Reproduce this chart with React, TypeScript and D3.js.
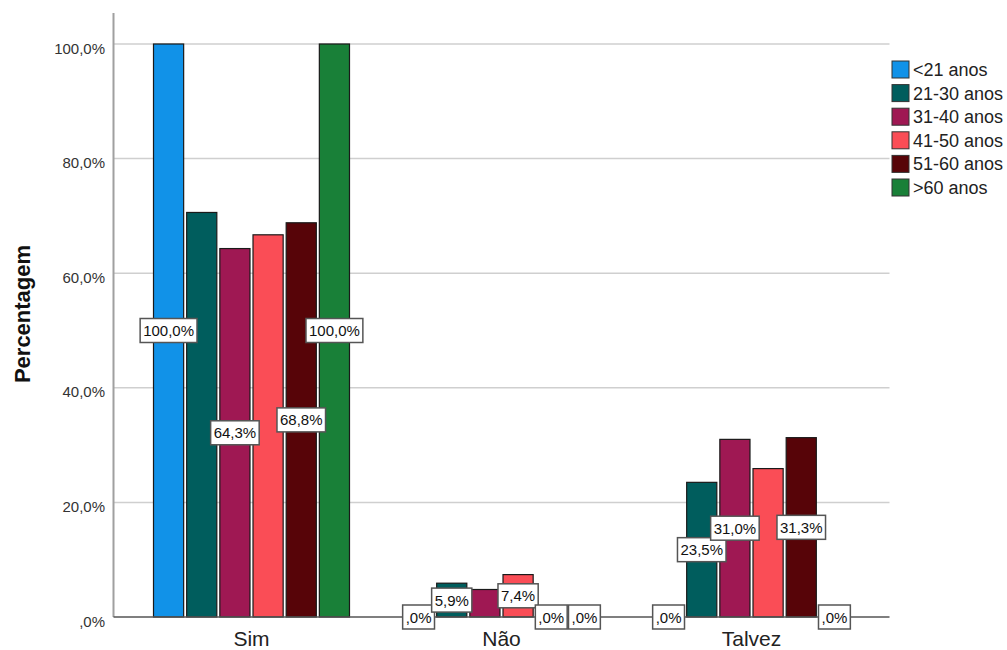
import React, { useEffect, useRef } from "react";
import * as d3 from "d3";

const categories = ["Sim", "Não", "Talvez"];
const seriesNames = ["<21 anos", "21-30 anos", "31-40 anos", "41-50 anos", "51-60 anos", ">60 anos"];
const seriesColors = ["#1192e8", "#005d5d", "#9f1853", "#fa4d56", "#570408", "#198038"];
const simValues = [100, 70.6, 64.3, 66.7, 68.8, 100];
const naoValues = [0, 5.9, 4.8, 7.4, 0, 0];
const talvezValues = [0, 23.5, 31.0, 25.9, 31.3, 0];
const simShown = [true, false, true, false, true, true];
const naoShown = [true, true, false, true, true, true];
const talvezShown = [true, true, true, false, true, true];
const yTicks = [0, 20, 40, 60, 80, 100];
const yTitle = "Percentagem";

const FONT = "'Liberation Sans', Arial, Helvetica, sans-serif";

function fmt(v: number): string {
  let s = v.toFixed(1).replace(".", ",");
  if (s.startsWith("0,")) s = s.slice(1);
  return s + "%";
}

export default function App() {
  const ref = useRef<SVGSVGElement | null>(null);

  useEffect(() => {
    const svg = d3.select(ref.current);
    svg.selectAll("*").remove();

    const W = 1007, H = 650;
    const left = 113.5, right = 889.5, top = 13, bottom = 617;

    const valuesByCat = [simValues, naoValues, talvezValues];
    const shownByCat = [simShown, naoShown, talvezShown];

    const x0 = d3.scalePoint<string>().domain(categories).range([left, right]).padding(0.552);
    const x1 = d3.scaleBand<string>().domain(seriesNames).range([-98, 98]).paddingInner(0.091).paddingOuter(0);
    const y = d3.scaleLinear().domain([0, 100]).range([bottom, 44]);

    svg.append("rect").attr("width", W).attr("height", H).attr("fill", "#fff");

    // gridlines
    svg.append("g").selectAll("line").data(yTicks.filter(t => t > 0)).join("line")
      .attr("x1", left).attr("x2", right)
      .attr("y1", d => y(d)).attr("y2", d => y(d))
      .attr("stroke", "#cfcfcf").attr("stroke-width", 1.5);

    // y axis line
    svg.append("line").attr("x1", left).attr("x2", left).attr("y1", top).attr("y2", bottom)
      .attr("stroke", "#a0a0a0").attr("stroke-width", 2);

    // tick labels
    svg.append("g").selectAll("text").data(yTicks).join("text")
      .attr("x", 105).attr("y", d => y(d) + 9.5)
      .attr("text-anchor", "end")
      .attr("font-family", FONT).attr("font-size", 15).attr("fill", "#333")
      .text(d => fmt(d));

    // y title
    svg.append("text")
      .attr("transform", `translate(29.5, 314) rotate(-90)`)
      .attr("text-anchor", "middle")
      .attr("font-family", FONT).attr("font-size", 22).attr("font-weight", "bold").attr("fill", "#111")
      .text(yTitle);

    // bars
    const barsG = svg.append("g");
    categories.forEach((c, ci) => {
      const cx = x0(c)!;
      seriesNames.forEach((s, si) => {
        const v = valuesByCat[ci][si];
        if (v <= 0) return;
        barsG.append("rect")
          .attr("x", cx + x1(s)!)
          .attr("y", y(v))
          .attr("width", x1.bandwidth())
          .attr("height", y(0) - y(v))
          .attr("fill", seriesColors[si])
          .attr("stroke", "#1a1a1a").attr("stroke-width", 1.2);
      });
    });

    // x axis line
    svg.append("line").attr("x1", left).attr("x2", right).attr("y1", bottom).attr("y2", bottom)
      .attr("stroke", "#555").attr("stroke-width", 1.5);

    // category labels
    svg.append("g").selectAll("text").data(categories).join("text")
      .attr("x", d => x0(d)!).attr("y", 645.5)
      .attr("text-anchor", "middle")
      .attr("font-family", FONT).attr("font-size", 21).attr("fill", "#222")
      .text(d => d);

    // value labels
    const labG = svg.append("g");
    categories.forEach((c, ci) => {
      const cx = x0(c)!;
      seriesNames.forEach((s, si) => {
        if (!shownByCat[ci][si]) return;
        const v = valuesByCat[ci][si];
        const bx = cx + x1(s)! + x1.bandwidth() / 2;
        const by = (y(0) + y(v)) / 2;
        const g = labG.append("g");
        const rect = g.append("rect");
        const t = g.append("text")
          .attr("x", bx).attr("y", by + 5.5)
          .attr("text-anchor", "middle")
          .attr("font-family", FONT).attr("font-size", 15).attr("fill", "#111")
          .text(fmt(v));
        const tw = (t.node() as SVGTextElement).getComputedTextLength();
        const bw = tw + 6, bh = 24;
        rect.attr("x", bx - bw / 2).attr("y", by - bh / 2)
          .attr("width", bw).attr("height", bh)
          .attr("fill", "#fff").attr("stroke", "#555").attr("stroke-width", 1.5);
      });
    });

    // legend
    const lg = svg.append("g");
    seriesNames.forEach((s, si) => {
      const cy = 69.5 + si * 23.6;
      lg.append("rect").attr("x", 892).attr("y", cy - 8.5).attr("width", 17).attr("height", 17)
        .attr("fill", seriesColors[si]).attr("stroke", "#333").attr("stroke-width", 1);
      lg.append("text").attr("x", 913).attr("y", cy + 6.5)
        .attr("font-family", FONT).attr("font-size", 18).attr("fill", "#222")
        .text(s);
    });
  }, []);

  return (
    <svg ref={ref} width={1007} height={650}
      style={{ position: "absolute", left: 0, top: 0, display: "block" }} />
  );
}
